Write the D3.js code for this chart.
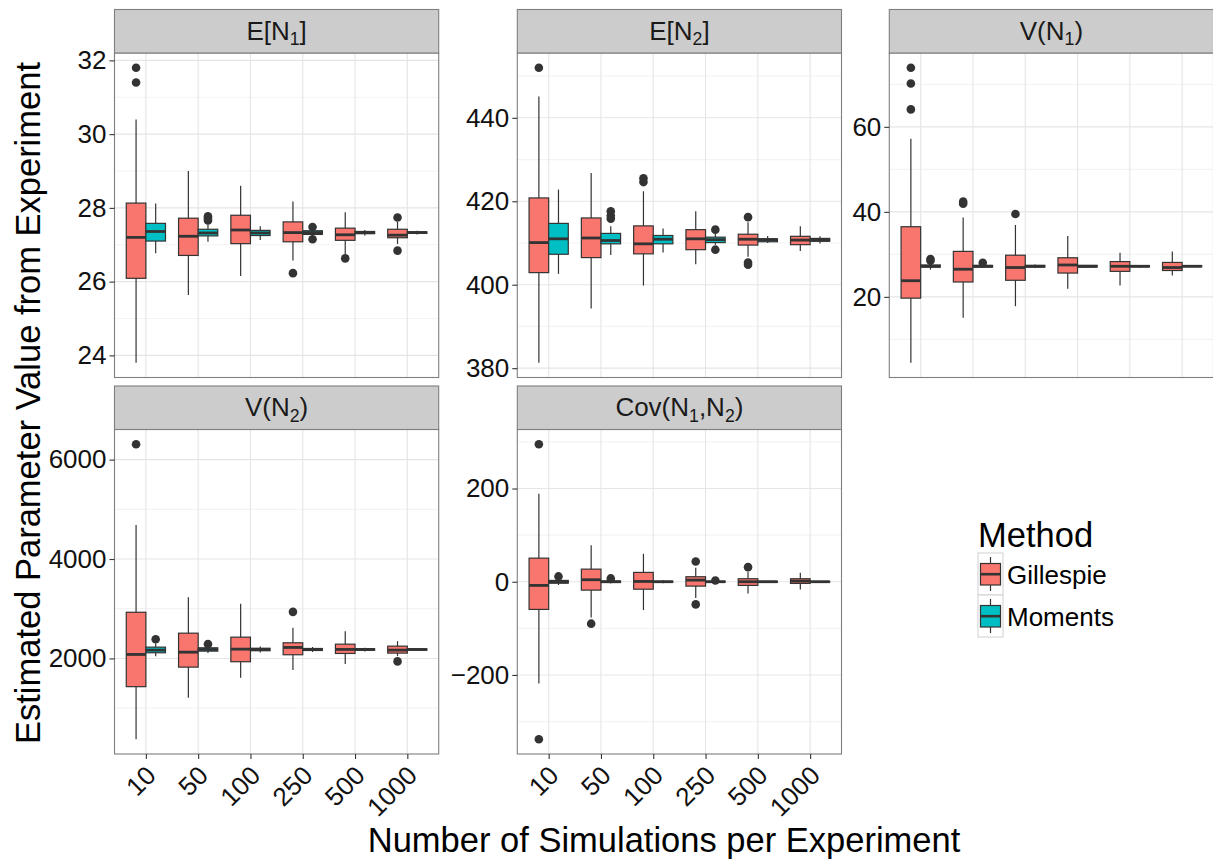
<!DOCTYPE html>
<html lang="en">
<head>
<meta charset="UTF-8">
<title>Boxplots</title>
<script src="https://cdn.jsdelivr.net/npm/d3@7"></script>
<style>
  body { margin: 0; background: #fff; }
  svg text { font-family: "Liberation Sans", Arial, sans-serif; }
</style>
</head>
<body>
<script>
// categories
const sims = ["10", "50", "100", "250", "500", "1000"];
const methods = ["Gillespie", "Moments"];
const colors = ["#F8766D", "#00BFC4"];

// [lower whisker, Q1, median, Q3, upper whisker] per sims entry
const eN1Gillespie = [[23.80,26.09,27.20,28.13,30.40],[25.64,26.71,27.23,27.72,29.00],[26.15,27.03,27.40,27.80,28.60],[26.57,27.08,27.33,27.62,28.17],[26.75,27.12,27.27,27.45,27.88],[27.02,27.19,27.26,27.42,27.62]];
const eN1Moments   = [[26.77,27.10,27.36,27.58,28.12],[27.08,27.24,27.32,27.42,27.55],[27.13,27.25,27.32,27.39,27.50],[27.22,27.28,27.33,27.38,27.42],[27.25,27.30,27.33,27.36,27.40],[27.28,27.31,27.33,27.35,27.38]];
const eN1GillespieOut = [[31.80,31.40],[],[],[26.23],[26.63],[27.74,26.84]];
const eN1MomentsOut   = [[],[27.77,27.72,27.66],[],[27.48,27.15],[],[]];

const eN2Gillespie = [[381.3,402.9,410.1,420.8,445.1],[394.3,406.5,411.2,416.0,426.8],[399.8,407.4,409.8,414.1,422.4],[404.9,408.4,411.0,413.2,417.6],[406.7,409.5,410.9,412.1,415.0],[408.1,409.6,410.7,411.6,414.0]];
const eN2Moments   = [[402.6,407.3,411.0,414.7,422.8],[407.1,409.8,410.6,412.3,414.0],[407.7,409.8,410.9,411.8,413.5],[409.6,410.1,410.8,411.4,412.2],[410.0,410.3,410.8,411.0,411.7],[409.9,410.4,410.8,411.1,411.6]];
const eN2GillespieOut = [[452.0],[],[425.5,424.6],[],[416.2,405.3,404.8],[]];
const eN2MomentsOut   = [[],[417.6,416.6,415.8],[],[413.2,408.4],[],[]];

const vN1Gillespie = [[4.5,19.7,23.8,36.5,57.2],[15.1,23.5,26.5,30.7,38.7],[17.8,23.9,26.9,29.8,36.9],[21.9,25.6,27.5,29.2,34.3],[22.7,26.0,27.2,28.3,30.4],[25.0,26.2,26.9,28.1,30.7]];
const vN1Moments   = [[26.4,27.0,27.2,27.5,28.0],[26.8,27.0,27.2,27.4,27.6],[26.8,27.0,27.2,27.4,27.6],[26.9,27.0,27.2,27.4,27.5],[26.9,27.05,27.2,27.35,27.5],[26.95,27.1,27.2,27.3,27.45]];
const vN1GillespieOut = [[73.9,70.2,64.1],[42.4,41.9],[39.5],[],[],[]];
const vN1MomentsOut   = [[28.9,28.5],[28.0],[],[],[],[]];

const vN2Gillespie = [[374,1432,2080,2929,4683],[1211,1825,2126,2508,3230],[1613,1934,2187,2428,3098],[1765,2074,2221,2315,2616],[1886,2100,2181,2287,2548],[2046,2107,2167,2247,2347]];
const vN2Moments   = [[2046,2114,2167,2227,2300],[2110,2147,2180,2214,2250],[2120,2155,2180,2205,2240],[2130,2160,2180,2200,2230],[2140,2165,2180,2195,2215],[2150,2168,2180,2192,2205]];
const vN2GillespieOut = [[6309],[],[],[2937],[],[1940]];
const vN2MomentsOut   = [[2387],[2287],[],[],[],[]];

const covGillespie = [[-218.6,-59.4,-7.9,50.6,188.6],[-77,-18,4.3,27,78.4],[-60.8,-16,0.6,20,60],[-35,-9.4,3.5,10.7,30],[-25,-7.9,0,6.4,21.4],[-16.5,-3.6,1.4,6.4,19.3]];
const covMoments   = [[-7,-3,-0.7,2.8,8],[-4,-1.5,0,1.5,4],[-3,-1,0,1,3],[-2.5,-1,0,1,2.5],[-2,-0.8,0,0.8,2],[-1.5,-0.6,0,0.6,1.5]];
const covGillespieOut = [[295,-338],[-90],[],[43.5,-48.6],[31.3],[]];
const covMomentsOut   = [[11.4],[7.1],[],[2.5],[],[]];

// tick labels
const eN1Ticks = [24, 26, 28, 30, 32];
const eN2Ticks = [380, 400, 420, 440];
const vN1Ticks = [20, 40, 60];
const vN2Ticks = [2000, 4000, 6000];
const covTicks = [-200, 0, 200];

const stripNames = ["E[N_1]", "E[N_2]", "V(N_1)", "V(N_2)", "Cov(N_1,N_2)"];

const panels = [
    {name: stripNames[0], ticks: eN1Ticks, stats: [eN1Gillespie, eN1Moments], outs: [eN1GillespieOut, eN1MomentsOut], col: 0, row: 0, xaxis: false},
    {name: stripNames[1], ticks: eN2Ticks, stats: [eN2Gillespie, eN2Moments], outs: [eN2GillespieOut, eN2MomentsOut], col: 1, row: 0, xaxis: false},
    {name: stripNames[2], ticks: vN1Ticks, stats: [vN1Gillespie, vN1Moments], outs: [vN1GillespieOut, vN1MomentsOut], col: 2, row: 0, xaxis: false},
    {name: stripNames[3], ticks: vN2Ticks, stats: [vN2Gillespie, vN2Moments], outs: [vN2GillespieOut, vN2MomentsOut], col: 0, row: 1, xaxis: true},
    {name: stripNames[4], ticks: covTicks, stats: [covGillespie, covMoments], outs: [covGillespieOut, covMomentsOut], col: 1, row: 1, xaxis: true}
];

const width = 1213, height = 863;
const colLeft = [114.5, 517.3, 889.3];
const rowTop = [9.5, 386];
const panelW = 324.2, stripH = 43.5, panelH = 324.5;
const ink = "#333333";
const tickSize = 26;

const svg = d3.select("body").append("svg")
    .attr("width", width)
    .attr("height", height);

// text with "_1" style subscripts
function richText(sel, str, size) {
    let back = 0;
    str.split(/(_\d)/).filter(s => s.length).forEach(part => {
        if (part[0] === "_") {
            sel.append("tspan").attr("font-size", size * 0.68).attr("dy", size * 0.22).text(part.slice(1));
            back = -size * 0.22;
        } else {
            sel.append("tspan").attr("dy", back || null).text(part);
            back = 0;
        }
    });
}

panels.forEach(p => {
    const left = colLeft[p.col];
    const top = rowTop[p.row] + stripH;
    const g = svg.append("g");

    let all = [];
    p.stats.forEach(s => s.forEach(d => all.push(d[0], d[4])));
    p.outs.forEach(o => o.forEach(d => all.push(...d)));
    const [lo, hi] = d3.extent(all);
    const pad = (hi - lo) * 0.05;

    const x = d3.scalePoint().domain(sims).range([left, left + panelW]).padding(0.6);
    const y = d3.scaleLinear().domain([lo - pad, hi + pad]).range([top + panelH, top]);
    const bw = x.step() * 0.375;

    // minor grid at midpoints
    const step = p.ticks[1] - p.ticks[0];
    const minor = d3.range(p.ticks[0] - step / 2, hi + pad, step).filter(v => v > lo - pad);
    g.selectAll(".minor").data(minor).enter().append("line")
        .attr("x1", left).attr("x2", left + panelW)
        .attr("y1", d => y(d)).attr("y2", d => y(d))
        .attr("stroke", "#f3f3f3").attr("stroke-width", 1.2);
    g.selectAll(".major").data(p.ticks).enter().append("line")
        .attr("x1", left).attr("x2", left + panelW)
        .attr("y1", d => y(d)).attr("y2", d => y(d))
        .attr("stroke", "#e5e5e5").attr("stroke-width", 1.1);
    g.selectAll(".vmajor").data(sims).enter().append("line")
        .attr("x1", d => x(d)).attr("x2", d => x(d))
        .attr("y1", top).attr("y2", top + panelH)
        .attr("stroke", "#e5e5e5").attr("stroke-width", 1.1);

    // boxes
    methods.forEach((m, mi) => {
        const off = mi === 0 ? -bw / 2 : bw / 2;
        const bg = g.append("g").selectAll("g").data(p.stats[mi]).enter().append("g");
        bg.append("line")
            .attr("x1", (d, i) => x(sims[i]) + off).attr("x2", (d, i) => x(sims[i]) + off)
            .attr("y1", d => y(d[0])).attr("y2", d => y(d[4]))
            .attr("stroke", ink).attr("stroke-width", 1.2);
        bg.append("rect")
            .attr("x", (d, i) => x(sims[i]) + off - bw / 2)
            .attr("width", bw)
            .attr("y", d => y(d[3]))
            .attr("height", d => Math.max(y(d[1]) - y(d[3]), 0.5))
            .attr("fill", colors[mi]).attr("stroke", ink).attr("stroke-width", 1.2);
        bg.append("line")
            .attr("x1", (d, i) => x(sims[i]) + off - bw / 2).attr("x2", (d, i) => x(sims[i]) + off + bw / 2)
            .attr("y1", d => y(d[2])).attr("y2", d => y(d[2]))
            .attr("stroke", ink).attr("stroke-width", 2.8);
        p.outs[mi].forEach((vals, i) => {
            g.selectAll(null).data(vals).enter().append("circle")
                .attr("cx", x(sims[i]) + off).attr("cy", d => y(d))
                .attr("r", 4.3).attr("fill", ink);
        });
    });

    // border
    g.append("rect").attr("x", left).attr("y", top).attr("width", panelW).attr("height", panelH)
        .attr("fill", "none").attr("stroke", "#7f7f7f").attr("stroke-width", 1.1);

    // strip
    g.append("rect").attr("x", left).attr("y", rowTop[p.row]).attr("width", panelW).attr("height", stripH)
        .attr("fill", "#cccccc").attr("stroke", "#7f7f7f").attr("stroke-width", 1.1);
    const st = g.append("text")
        .attr("x", left + panelW / 2).attr("y", rowTop[p.row] + 30)
        .attr("text-anchor", "middle").attr("font-size", 26).attr("fill", "#1a1a1a");
    richText(st, p.name, 26);

    // y axis
    const ya = g.append("g").attr("transform", `translate(${left},0)`)
        .call(d3.axisLeft(y).tickValues(p.ticks).tickFormat(d3.format("d")).tickSize(5).tickPadding(3));
    ya.select(".domain").remove();
    ya.selectAll("line").attr("stroke", ink).attr("stroke-width", 1.1);
    ya.selectAll("text").attr("font-size", tickSize).attr("fill", "#111").attr("font-family", null);

    // x axis
    if (p.xaxis) {
        const xa = g.append("g").attr("transform", `translate(0,${top + panelH})`)
            .call(d3.axisBottom(x).tickSize(5));
        xa.select(".domain").remove();
        xa.selectAll("line").attr("stroke", ink).attr("stroke-width", 1.1);
        xa.selectAll("text")
            .attr("font-size", tickSize).attr("fill", "#111").attr("font-family", null)
            .attr("text-anchor", "end")
            .attr("dy", null).attr("y", 0)
            .attr("transform", "translate(11,23) rotate(-45)");
    }
});

// axis titles
svg.append("text")
    .attr("transform", "translate(40,403) rotate(-90)")
    .attr("text-anchor", "middle").attr("font-size", 34.5)
    .text("Estimated Parameter Value from Experiment");
svg.append("text")
    .attr("x", 664).attr("y", 852)
    .attr("text-anchor", "middle").attr("font-size", 34.5)
    .text("Number of Simulations per Experiment");

// legend
const legend = svg.append("g").attr("transform", "translate(978,0)");
legend.append("text").attr("x", 0).attr("y", 547).attr("font-size", 34.5).text("Method");
methods.forEach((m, i) => {
    const k = legend.append("g").attr("transform", `translate(0,${553 + i * 42})`);
    k.append("rect").attr("width", 25).attr("height", 42).attr("fill", "#fff")
        .attr("stroke", "#cfcfcf").attr("stroke-width", 1);
    k.append("line").attr("x1", 12.5).attr("x2", 12.5).attr("y1", 4).attr("y2", 38)
        .attr("stroke", ink).attr("stroke-width", 1.2);
    k.append("rect").attr("x", 2.5).attr("y", 10.5).attr("width", 20).attr("height", 21.5)
        .attr("fill", colors[i]).attr("stroke", ink).attr("stroke-width", 1.2);
    k.append("line").attr("x1", 2.5).attr("x2", 22.5).attr("y1", 21.2).attr("y2", 21.2)
        .attr("stroke", ink).attr("stroke-width", 2.6);
    k.append("text").attr("x", 29).attr("y", 30.5).attr("font-size", 26).text(m);
});
</script>
</body>
</html>
